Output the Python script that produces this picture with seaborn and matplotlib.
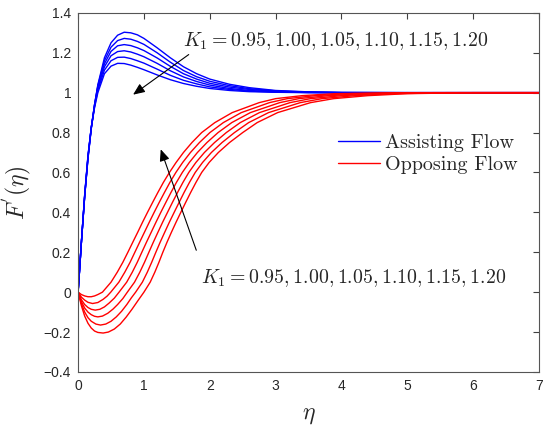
import matplotlib
matplotlib.use('Agg')
from matplotlib import pyplot as plt
import numpy as np
import pandas as pd
import seaborn as sns

# curve values
K1 = [0.95, 1.00, 1.05, 1.10, 1.15, 1.20]

# assisting flow: common eta grid, one row per K1
eta_assist = [0, 0.05, 0.1, 0.15, 0.2, 0.25, 0.3, 0.4, 0.5, 0.6, 0.7, 0.8, 0.9, 1.0,
              1.2, 1.4, 1.6, 1.8, 2.0, 2.3, 2.6, 3.0, 3.5, 4.0, 5.0, 7.0]
F_assist = [
    [0, 0.25, 0.48, 0.67, 0.82, 0.94, 1.04, 1.175, 1.25, 1.288, 1.303, 1.300, 1.290, 1.272,
     1.225, 1.175, 1.130, 1.095, 1.068, 1.042, 1.025, 1.011, 1.004, 1.001, 1.0, 1.0],
    [0, 0.25, 0.48, 0.67, 0.82, 0.94, 1.035, 1.16, 1.228, 1.261, 1.272, 1.268, 1.257, 1.242,
     1.200, 1.153, 1.111, 1.080, 1.057, 1.035, 1.020, 1.009, 1.003, 1.001, 1.0, 1.0],
    [0, 0.25, 0.48, 0.675, 0.825, 0.94, 1.03, 1.145, 1.207, 1.235, 1.241, 1.236, 1.225, 1.211,
     1.174, 1.132, 1.095, 1.068, 1.047, 1.028, 1.016, 1.007, 1.002, 1.0, 1.0, 1.0],
    [0, 0.25, 0.485, 0.68, 0.825, 0.935, 1.022, 1.13, 1.185, 1.206, 1.210, 1.204, 1.193, 1.180,
     1.147, 1.110, 1.079, 1.056, 1.038, 1.021, 1.011, 1.004, 1.001, 1.0, 1.0, 1.0],
    [0, 0.25, 0.485, 0.68, 0.825, 0.93, 1.012, 1.113, 1.160, 1.177, 1.178, 1.171, 1.160, 1.148,
     1.118, 1.087, 1.062, 1.044, 1.029, 1.016, 1.008, 1.003, 1.001, 1.0, 1.0, 1.0],
    [0, 0.25, 0.49, 0.685, 0.825, 0.925, 1.0, 1.095, 1.133, 1.147, 1.146, 1.138, 1.127, 1.115,
     1.089, 1.065, 1.046, 1.032, 1.021, 1.011, 1.005, 1.002, 1.0, 1.0, 1.0, 1.0],
]

# opposing flow, part 1: the dip below zero (eta, F) per K1
eta_dip = [
    [0, 0.05, 0.1, 0.15, 0.2, 0.25, 0.3],
    [0, 0.05, 0.1, 0.15, 0.22, 0.3, 0.38, 0.44],
    [0, 0.05, 0.1, 0.15, 0.2, 0.26, 0.33, 0.4, 0.47, 0.55],
    [0, 0.05, 0.1, 0.15, 0.2, 0.25, 0.3, 0.37, 0.45, 0.53, 0.6, 0.68],
    [0, 0.05, 0.1, 0.15, 0.2, 0.27, 0.34, 0.42, 0.5, 0.58, 0.66, 0.74, 0.81],
    [0, 0.05, 0.1, 0.15, 0.2, 0.25, 0.3, 0.38, 0.46, 0.55, 0.64, 0.73, 0.82, 0.91],
]
F_dip = [
    [0, -0.012, -0.019, -0.023, -0.023, -0.019, -0.012],
    [0, -0.025, -0.04, -0.051, -0.057, -0.052, -0.036, -0.02],
    [0, -0.038, -0.062, -0.077, -0.086, -0.09, -0.086, -0.074, -0.055, -0.03],
    [0, -0.048, -0.08, -0.1, -0.113, -0.121, -0.124, -0.12, -0.106, -0.085, -0.062, -0.032],
    [0, -0.058, -0.1, -0.128, -0.146, -0.16, -0.165, -0.16, -0.146, -0.124, -0.096, -0.062,
     -0.028],
    [0, -0.068, -0.12, -0.156, -0.18, -0.195, -0.202, -0.205, -0.2, -0.185, -0.16, -0.125,
     -0.085, -0.042],
]

# opposing flow, part 2: the rise, eta where each curve reaches these F levels
F_rise = [0, 0.05, 0.1, 0.15, 0.2, 0.25, 0.3, 0.35, 0.4, 0.45, 0.5, 0.55, 0.6, 0.65, 0.7,
          0.75, 0.8, 0.85, 0.9, 0.95, 0.97, 0.985, 0.995, 1.0, 1.0]
eta_rise = [
    [0.37, 0.50, 0.595, 0.68, 0.756, 0.83, 0.905, 0.978, 1.054, 1.132, 1.212, 1.295, 1.387,
     1.488, 1.60, 1.729, 1.877, 2.077, 2.34, 2.75, 3.0, 3.4, 3.9, 5.0, 7.0],
    [0.496, 0.619, 0.709, 0.79, 0.862, 0.934, 1.007, 1.08, 1.155, 1.232, 1.312, 1.394, 1.485,
     1.588, 1.706, 1.843, 2.002, 2.206, 2.478, 2.906, 3.176, 3.6, 4.12, 5.2, 7.0],
    [0.622, 0.738, 0.823, 0.899, 0.968, 1.038, 1.11, 1.182, 1.256, 1.333, 1.411, 1.493, 1.583,
     1.689, 1.812, 1.957, 2.126, 2.334, 2.616, 3.062, 3.352, 3.8, 4.34, 5.4, 7.0],
    [0.748, 0.857, 0.937, 1.009, 1.075, 1.142, 1.212, 1.283, 1.358, 1.433, 1.511, 1.592, 1.681,
     1.789, 1.918, 2.072, 2.251, 2.463, 2.754, 3.218, 3.528, 4.0, 4.56, 5.6, 7.0],
    [0.874, 0.976, 1.051, 1.118, 1.181, 1.246, 1.315, 1.385, 1.459, 1.534, 1.61, 1.691, 1.779,
     1.89, 2.024, 2.186, 2.375, 2.591, 2.892, 3.374, 3.704, 4.2, 4.78, 5.8, 7.0],
    [1.0, 1.095, 1.165, 1.228, 1.287, 1.35, 1.417, 1.487, 1.56, 1.634, 1.71, 1.79, 1.877,
     1.99, 2.13, 2.30, 2.50, 2.72, 3.03, 3.53, 3.88, 4.4, 5.0, 6.0, 7.0],
]

flows = ['Assisting Flow', 'Opposing Flow']
xticks = [0, 1, 2, 3, 4, 5, 6, 7]
yticks = [-0.4, -0.2, 0, 0.2, 0.4, 0.6, 0.8, 1, 1.2, 1.4]
ytick_labels = ['\u22120.4', '\u22120.2', '0', '0.2', '0.4', '0.6', '0.8', '1', '1.2', '1.4']
k_label = r'$K_1 = 0.95, 1.00, 1.05, 1.10, 1.15, 1.20$'

# long table for seaborn
rows = []
for i, k in enumerate(K1):
    for e, f in zip(eta_assist, F_assist[i]):
        rows.append((e, f, 'a%d' % i, flows[0]))
    for e, f in zip(eta_dip[i] + eta_rise[i], F_dip[i] + F_rise):
        rows.append((e, f, 'o%d' % i, flows[1]))
df = pd.DataFrame(rows, columns=['eta', 'F', 'curve', 'flow'])

sns.set_style('white')
plt.rcParams['font.family'] = ['Liberation Sans', 'DejaVu Sans']
plt.rcParams['mathtext.fontset'] = 'cm'

fig = plt.figure(figsize=(5.5, 4.29), dpi=100)
ax = fig.add_axes([0.142, 0.133, 0.838, 0.837])

sns.lineplot(data=df, x='eta', y='F', hue='flow', units='curve', estimator=None,
             sort=False, hue_order=flows, palette={flows[0]: '#0000ff', flows[1]: '#ff0000'},
             linewidth=1.0, ax=ax)

ax.set_xlim(0, 7)
ax.set_ylim(-0.4, 1.4)
ax.set_xticks(xticks)
ax.set_yticks(yticks)
ax.set_yticklabels(ytick_labels)
ax.tick_params(direction='in', top=True, right=True, length=4, width=0.8,
               colors='#404040', labelsize=10, labelcolor='#262626', pad=5)
for s in ax.spines.values():
    s.set_color('#555555')
    s.set_linewidth(0.8)

ax.set_xlabel(r'$\eta$', fontsize=17, labelpad=8)
ax.set_ylabel(r"$F^{'}(\eta)$", fontsize=17, labelpad=6)

handles, labels = ax.get_legend_handles_labels()
ax.legend(handles, labels, loc='center left', bbox_to_anchor=(0.564, 0.607), frameon=False,
          borderaxespad=0, borderpad=0, handlelength=2.1, handletextpad=0.25,
          labelspacing=0.15, prop={'family': 'cmr10', 'size': 14.5})

ax.text(1.59, 1.234, k_label, fontsize=14.3, va='baseline', ha='left')
ax.text(1.86, 0.047, k_label, fontsize=14.3, va='baseline', ha='left')
arrow = dict(arrowstyle='-|>,head_length=0.7,head_width=0.3', color='black', lw=0.8,
             shrinkA=0, shrinkB=0)
ax.annotate('', xy=(0.835, 0.99), xytext=(1.68, 1.191), arrowprops=arrow)
ax.annotate('', xy=(1.255, 0.716), xytext=(1.795, 0.21), arrowprops=arrow)

fig.savefig('out.png', dpi=100)
